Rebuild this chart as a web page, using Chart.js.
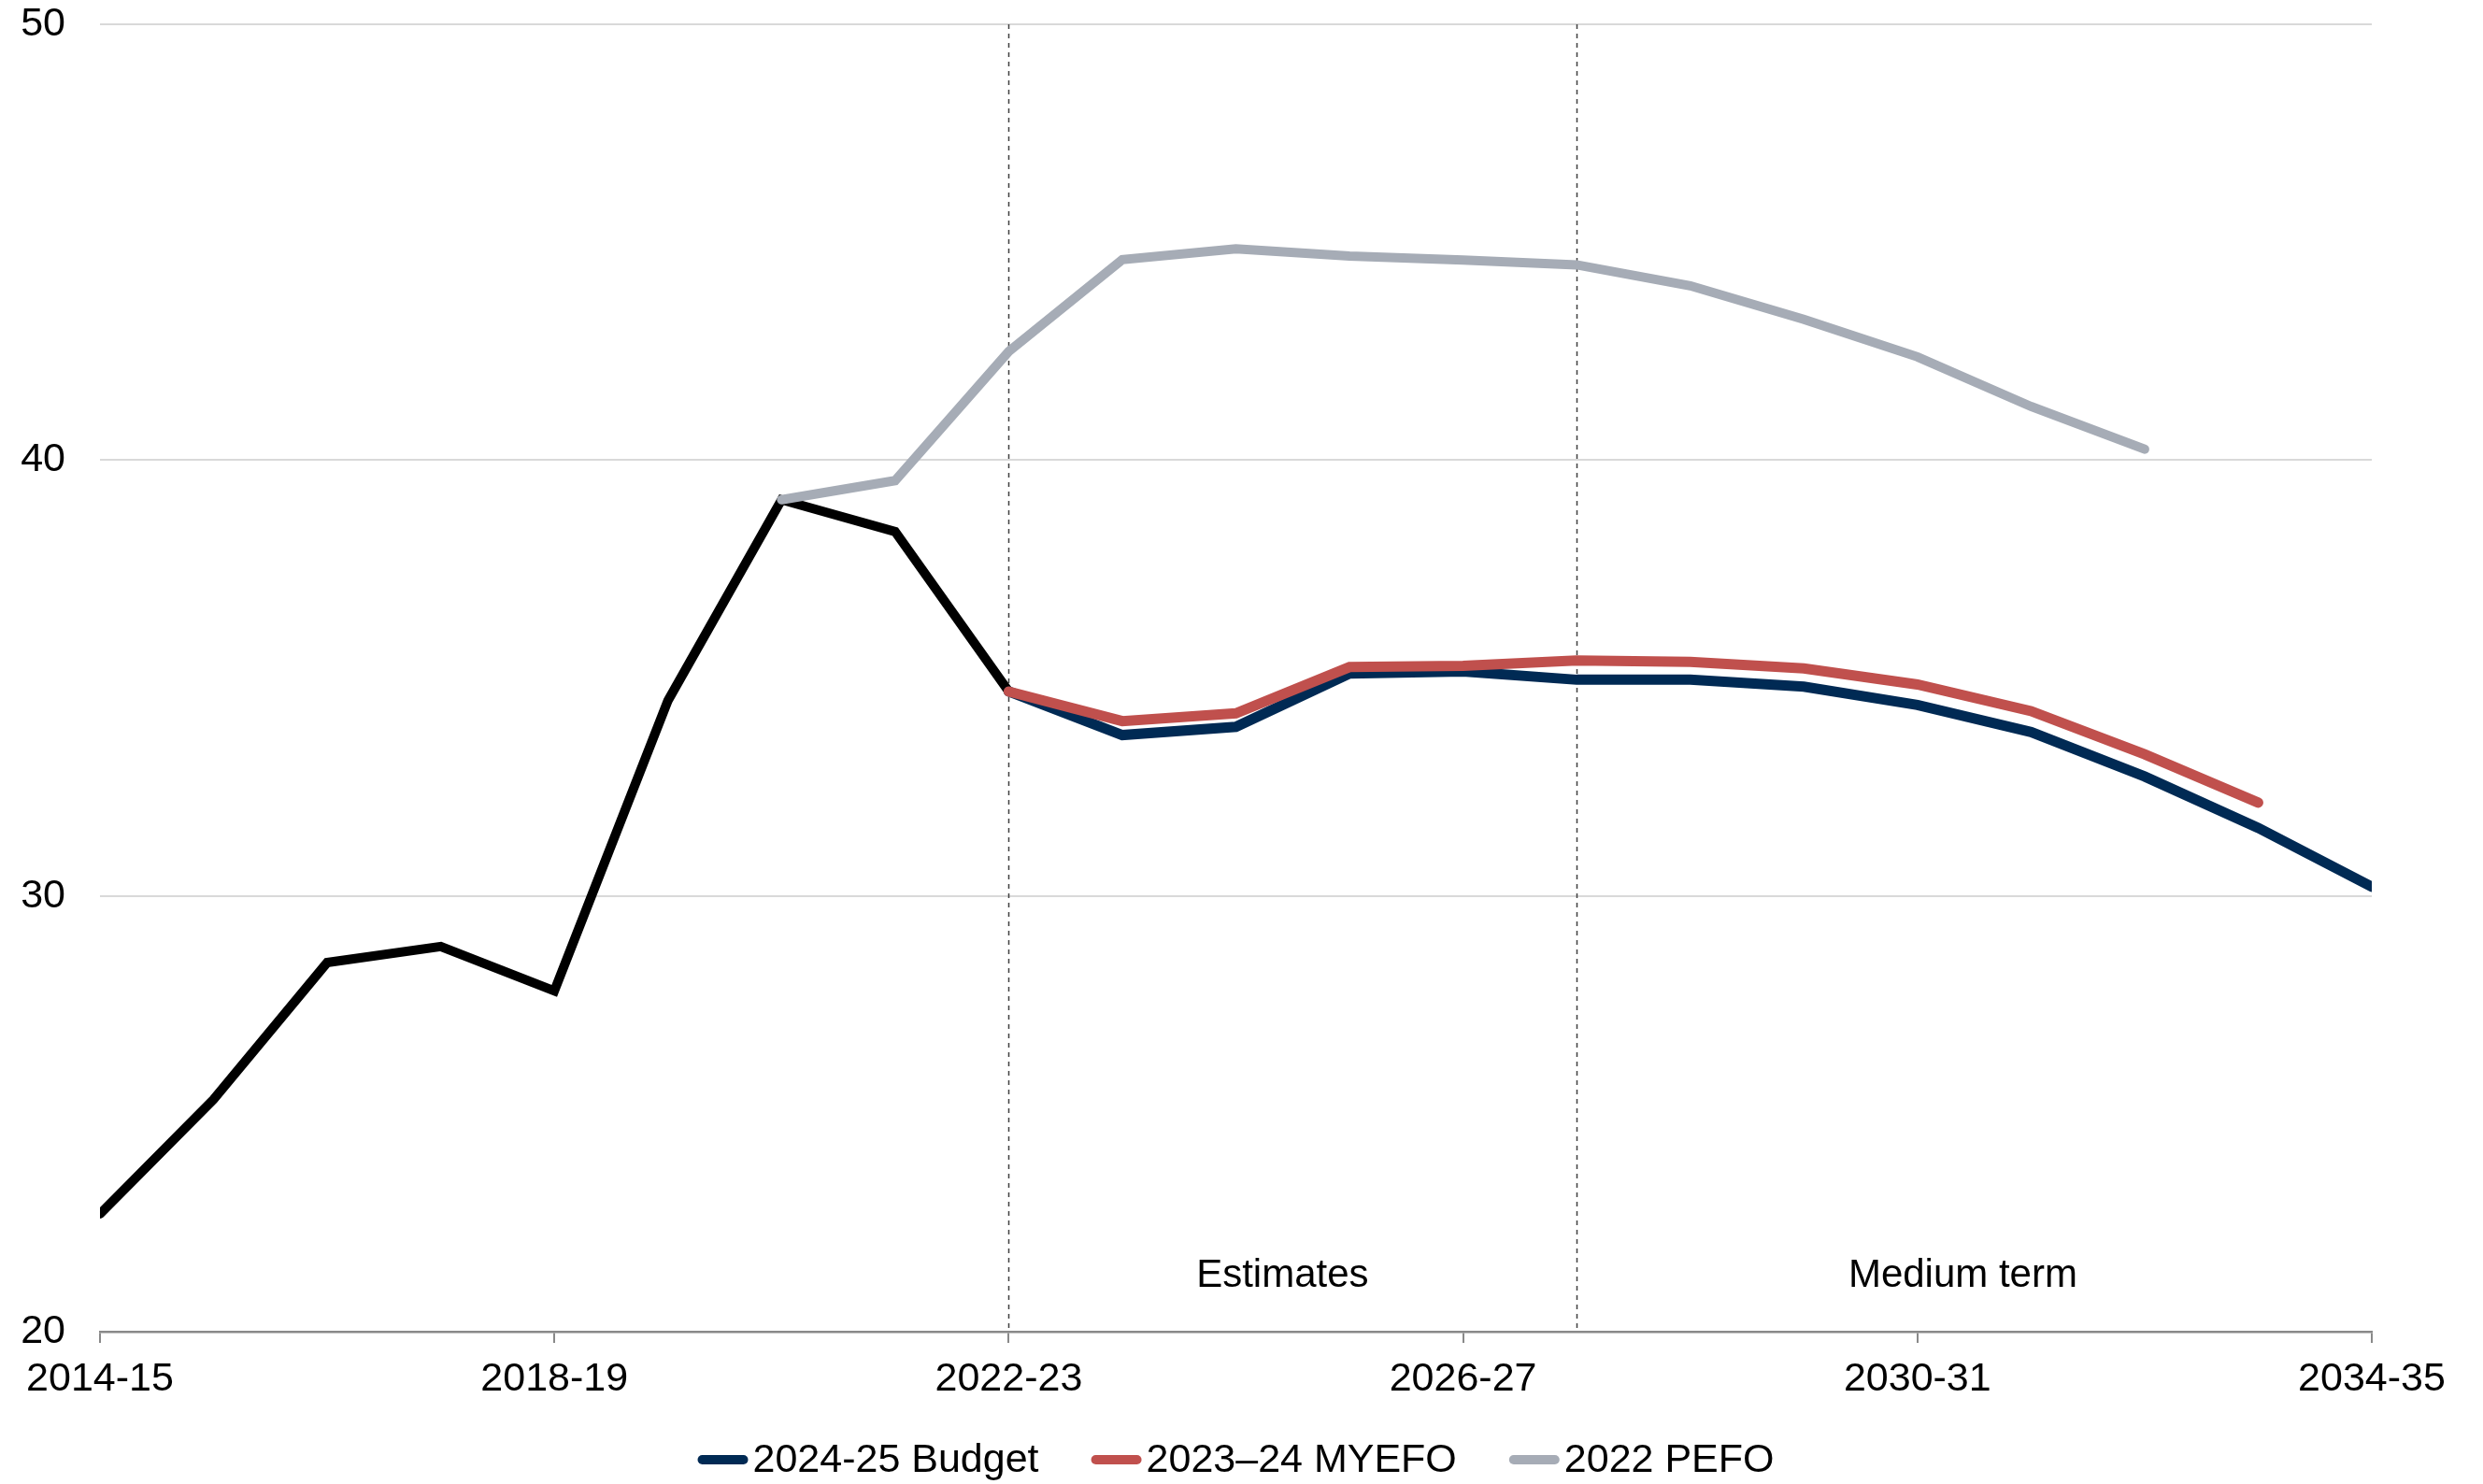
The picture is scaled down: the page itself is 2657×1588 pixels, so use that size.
<!DOCTYPE html>
<html>
<head>
<meta charset="utf-8">
<script src="https://cdn.jsdelivr.net/npm/chart.js@4.4.1/dist/chart.umd.min.js"></script>
<style>
    html, body { margin: 0; padding: 0; background: #fff; }
    #wrap { width: 2657px; height: 1588px; position: relative; }
</style>
</head>
<body>
<div id="wrap"><canvas id="debtChart"></canvas></div>
<script>
// Chart data
const years = ['2014-15', '2015-16', '2016-17', '2017-18', '2018-19', '2019-20', '2020-21',
    '2021-22', '2022-23', '2023-24', '2024-25', '2025-26', '2026-27', '2027-28', '2028-29',
    '2029-30', '2030-31', '2031-32', '2032-33', '2033-34', '2034-35'];

const actual = [22.7, 25.33, 28.47, 28.84, 27.82, 34.48, 39.09, 38.36, 34.69,
    null, null, null, null, null, null, null, null, null, null, null, null];
const budget = [null, null, null, null, null, null, null, null,
    34.69, 33.69, 33.88, 35.10, 35.15, 34.96, 34.96, 34.80, 34.38, 33.76, 32.74, 31.56, 30.21];
const myefo = [null, null, null, null, null, null, null, null,
    34.69, 34.01, 34.19, 35.25, 35.28, 35.40, 35.37, 35.22, 34.85, 34.24, 33.25, 32.14, null];
const pefo = [null, null, null, null, null, null,
    39.09, 39.53, 42.49, 44.60, 44.85, 44.68, 44.59, 44.48, 44.00, 43.23, 42.37, 41.23, 40.25, null, null];

const yTicks = [20, 30, 40, 50];
const dividers = ['2022-23', '2027-28'];
const periodLabels = ['Estimates', 'Medium term'];

const FONT = "'Liberation Sans', Arial, sans-serif";

// dashed dividers and period labels
const periodPlugin = {
    id: 'periods',
    beforeDatasetsDraw(chart) {
        const { ctx, chartArea, scales } = chart;
        ctx.save();
        ctx.strokeStyle = '#404040';
        ctx.lineWidth = 1.5;
        ctx.setLineDash([5, 5]);
        dividers.forEach(d => {
            const x = Math.round(scales.x.getPixelForValue(years.indexOf(d))) + 0.5;
            ctx.beginPath();
            ctx.moveTo(x, chartArea.top);
            ctx.lineTo(x, chartArea.bottom);
            ctx.stroke();
        });
        ctx.restore();
    },
    afterDatasetsDraw(chart) {
        const { ctx, scales } = chart;
        const spots = [10.41, 16.4];
        ctx.save();
        ctx.font = '42px ' + FONT;
        ctx.fillStyle = '#000';
        ctx.textAlign = 'center';
        ctx.textBaseline = 'middle';
        periodLabels.forEach((t, i) => {
            ctx.fillText(t, scales.x.getPixelForValue(spots[i]), scales.y.getPixelForValue(21.28));
        });
        ctx.restore();
    }
};

// legend drawn as short thick lines with the label right next to it
const lineLegend = {
    id: 'lineLegend',
    afterDraw(chart) {
        const { ctx, chartArea } = chart;
        const items = chart.data.datasets.filter(d => d.label !== 'Actual');
        const lineW = 54, gap = 5, spacing = 56, y = 1562;
        ctx.save();
        ctx.font = '43px ' + FONT;
        ctx.textBaseline = 'middle';
        const widths = items.map(d => lineW + gap + ctx.measureText(d.label).width);
        const total = widths.reduce((a, b) => a + b, 0) + spacing * (items.length - 1);
        let x = (chartArea.left + chartArea.right) / 2 - total / 2;
        items.forEach((d, i) => {
            ctx.strokeStyle = d.borderColor;
            ctx.lineWidth = 10;
            ctx.lineCap = 'round';
            ctx.beginPath();
            ctx.moveTo(x + 5, y);
            ctx.lineTo(x + lineW - 5, y);
            ctx.stroke();
            ctx.fillStyle = '#000';
            ctx.fillText(d.label, x + lineW + gap, y + 1);
            x += widths[i] + spacing;
        });
        ctx.restore();
    }
};

const ctx = document.getElementById('debtChart').getContext('2d');
const chart = new Chart(ctx, {
    type: 'line',
    data: {
        labels: years,
        datasets: [
            { label: '2024-25 Budget', data: budget, borderColor: '#002a54', backgroundColor: '#002a54', borderWidth: 11, order: 2 },
            { label: '2023\u201324 MYEFO', data: myefo, borderColor: '#c0504d', backgroundColor: '#c0504d', borderWidth: 11, order: 1 },
            { label: '2022 PEFO', data: pefo, borderColor: '#a6acb6', backgroundColor: '#a6acb6', borderWidth: 10, order: 0 },
            { label: 'Actual', data: actual, borderColor: '#000000', backgroundColor: '#000000', borderWidth: 10, order: 3 }
        ]
    },
    options: {
        responsive: true,
        maintainAspectRatio: false,
        animation: false,
        layout: { padding: { left: 0, right: 119, top: 26, bottom: 68 } },
        elements: {
            point: { radius: 0, hoverRadius: 0 },
            line: { tension: 0, borderCapStyle: 'round', borderJoinStyle: 'miter' }
        },
        datasets: { line: { clip: 0, spanGaps: false } },
        plugins: {
            tooltip: { enabled: false },
            legend: { display: false }
        },
        scales: {
            x: {
                offset: false,
                border: { color: '#898989', width: 2.5 },
                grid: { drawOnChartArea: false, color: '#898989', lineWidth: 2, tickLength: 12 },
                ticks: {
                    autoSkip: false, maxRotation: 0, padding: 13,
                    color: '#000', font: { family: FONT, size: 43 }
                },
                afterBuildTicks: scale => {
                    scale.ticks = scale.ticks.filter((t, i) => i % 4 === 0);
                },
                afterFit: scale => {
                    scale.height = 95;
                    scale.paddingLeft = 0;
                    scale.paddingRight = 0;
                }
            },
            y: {
                min: yTicks[0],
                max: yTicks[yTicks.length - 1],
                border: { display: false },
                grid: { color: '#d9d9d9', lineWidth: 2, drawTicks: false },
                ticks: {
                    stepSize: yTicks[1] - yTicks[0], padding: 37,
                    color: '#000', font: { family: FONT, size: 43 }
                },
                afterFit: scale => {
                    scale.width = 107;
                    scale.paddingTop = 0;
                    scale.paddingBottom = 0;
                }
            }
        }
    },
    plugins: [periodPlugin, lineLegend]
});
</script>
</body>
</html>
